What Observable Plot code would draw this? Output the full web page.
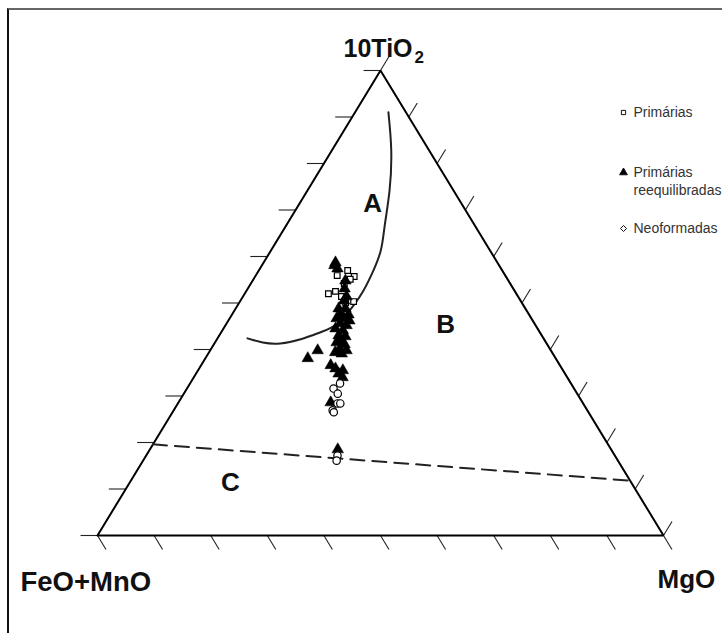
<!DOCTYPE html>
<html>
<head>
<meta charset="utf-8">
<script src="https://cdn.jsdelivr.net/npm/d3@7"></script>
<script src="https://cdn.jsdelivr.net/npm/@observablehq/plot@0.6"></script>
<style>
  body { margin: 0; background: #fff; }
  #chart { position: relative; width: 722px; height: 633px; overflow: hidden; background: #fff; }
  #border { position: absolute; left: 7px; top: 8px; width: 800px; height: 700px;
            border-left: 2px solid #111; border-top: 2px solid #666; pointer-events: none; }
  #chart svg { position: absolute; left: 0; top: 0; }
</style>
</head>
<body>
<div id="chart"><div id="border"></div></div>
<script>
// Compositions in % of 10TiO2 and MgO; FeO+MnO is the remainder to 100.

// Primárias
const primTiO2 = [55.9, 57.0, 55.7, 55.1, 54.2, 52.0, 52.5, 50.3, 50.1, 51.4];
const primMgO  = [14.4, 15.7, 17.5, 17.1, 16.5, 14.8, 15.8, 20.1, 18.8, 17.4];

// Primárias reequilibradas
const reeqTiO2 = [58.1, 57.4, 58.7, 54.8, 53.1, 51.4, 50.5, 48.8, 48.8, 47.7, 47.5, 46.7,
                  46.7, 46.2, 45.6, 45.2, 44.5, 44.1, 43.0, 42.8, 41.9, 41.5, 41.1, 40.2,
                  39.8, 39.1, 39.4, 39.8, 38.1, 36.6, 35.9, 35.5, 34.8, 34.0, 28.6, 18.5];
const reeqMgO  = [12.8, 13.7, 12.7, 16.4, 17.1, 18.3, 18.3, 18.2, 19.4, 19.1, 20.6, 18.9,
                  20.2, 21.4, 20.1, 21.4, 19.8, 21.3, 21.1, 22.4, 22.2, 21.5, 23.1, 22.7,
                  24.1, 23.6, 22.3, 19.0, 18.1, 22.9, 24.1, 25.6, 25.2, 26.3, 26.9, 33.2];

// Neoformadas
const neoTiO2 = [32.7, 31.6, 30.5, 28.4, 28.4, 26.9, 26.5, 17.2, 16.1];
const neoMgO  = [26.5, 25.9, 27.2, 28.2, 28.7, 28.1, 28.5, 33.8, 34.2];

// Field boundary between A and B (curved)
const abTiO2 = [91.0, 82.8, 74.2, 66.7, 61.3, 56.6, 52.7, 49.5, 45.6, 43.7, 42.2, 41.3, 41.5, 42.4];
const abMgO  = [5.9, 10.5, 14.5, 17.4, 19.4, 20.3, 20.65, 20.5, 19.6, 17.55, 14.8, 11.65, 8.45, 5.3];

// Field boundary above C (dashed)
const cTiO2 = [19.6, 11.8];
const cMgO  = [0, 88.2];

// Field labels
const fieldNames = ["A", "B", "C"];
const fieldTiO2  = [71.4, 45.4, 11.4];
const fieldMgO   = [12.9, 38.8, 17.8];

// Tick positions along each side (%)
const tickValues = [0, 10, 20, 30, 40, 50, 60, 70, 80, 90, 100];
const tickLen = 3;

// Legend entries
const legendNames   = ["Primárias", "Primárias\nreequilibradas", "Neoformadas"];
const legendSymbols = ["square", "triangle", "diamond2"];
const legendFills   = ["white", "black", "white"];
const legendSizes   = [2.4, 2.9, 2.7];

// Ternary -> cartesian (triangle of unit base and unit height)
const px = (t, m) => (m + t / 2) / 100;
const py = t => t / 100;
const toPoints = (tio2, mgo) => tio2.map((t, i) => ({x: px(t, mgo[i]), y: py(t)}));

const prim = toPoints(primTiO2, primMgO);
const reeq = toPoints(reeqTiO2, reeqMgO);
const neo  = toPoints(neoTiO2, neoMgO);
const ab   = toPoints(abTiO2, abMgO);
const cLine = toPoints(cTiO2, cMgO);
const outline = toPoints([0, 100, 0, 0], [0, 0, 100, 0]);
const fields = fieldNames.map((n, i) => ({name: n, x: px(fieldTiO2[i], fieldMgO[i]), y: py(fieldTiO2[i])}));

// Ticks: left side horizontal, base parallel to right side, right side parallel to left side
const ticks = [];
for (const v of tickValues) {
  ticks.push({x1: px(v, 0), y1: py(v), x2: px(v, -tickLen), y2: py(v)});
  ticks.push({x1: px(0, 100 - v), y1: py(0), x2: px(-tickLen, 100 - v + tickLen), y2: py(-tickLen)});
  ticks.push({x1: px(100 - v, v), y1: py(100 - v), x2: px(100 - v + tickLen, v), y2: py(100 - v + tickLen)});
}

const font = "'Liberation Sans', Arial, sans-serif";
const legendY = [112, 172, 228];

const legendMarks = legendNames.flatMap((n, i) => [
  Plot.dot([n], {frameAnchor: "top-left", dx: 623, dy: legendY[i], symbol: legendSymbols[i],
    r: legendSizes[i], fill: legendFills[i], stroke: "#111", strokeWidth: 1}),
  Plot.text([n], {frameAnchor: "top-left", dx: 633, dy: legendY[i] - 7.5, text: d => d,
    textAnchor: "start", lineAnchor: "top", fontSize: 14, fill: "#333", lineHeight: 1.25})
]);

const chart = Plot.plot({
  width: 722,
  height: 633,
  margin: 0,
  x: {domain: [0, 1], range: [97, 663], axis: null},
  y: {domain: [0, 1], range: [535, 70], axis: null},
  style: {background: "transparent", fontFamily: font},
  marks: [
    Plot.link(ticks, {x1: "x1", y1: "y1", x2: "x2", y2: "y2", stroke: "#222", strokeWidth: 1.1}),
    Plot.line(outline, {x: "x", y: "y", stroke: "#000", strokeWidth: 2, strokeLinejoin: "miter"}),
    Plot.line(ab, {x: "x", y: "y", curve: "natural", stroke: "#222", strokeWidth: 2}),
    Plot.line(cLine, {x: "x", y: "y", stroke: "#222", strokeWidth: 2, strokeDasharray: "14,8"}),
    Plot.dot(prim, {x: "x", y: "y", symbol: "square", r: 3.2, fill: "white", stroke: "black", strokeWidth: 1.2}),
    Plot.dot(reeq, {x: "x", y: "y", symbol: "triangle", r: 4.3, fill: "black", stroke: "black", strokeWidth: 0.5}),
    Plot.dot(neo, {x: "x", y: "y", symbol: "circle", r: 3.7, fill: "white", stroke: "black", strokeWidth: 1.2}),
    Plot.text(fields, {x: "x", y: "y", text: "name", fontSize: 26, fontWeight: "bold", fill: "#111", lineAnchor: "middle"}),
    // Apex and corner labels
    Plot.text(["10TiO"], {x: px(100, 0), y: py(100), text: d => d, fontSize: 25, fontWeight: "bold", fill: "#111",
      textAnchor: "start", lineAnchor: "bottom", dx: -37, dy: -14}),
    Plot.text(["2"], {x: px(100, 0), y: py(100), text: d => d, fontSize: 17, fontWeight: "bold", fill: "#111",
      textAnchor: "start", lineAnchor: "bottom", dx: 34, dy: -8}),
    Plot.text(["FeO+MnO"], {x: px(0, 0), y: py(0), text: d => d, fontSize: 27.5, fontWeight: "bold", fill: "#111",
      textAnchor: "start", lineAnchor: "bottom", dx: -77, dy: 55}),
    Plot.text(["MgO"], {x: px(0, 100), y: py(0), text: d => d, fontSize: 26, fontWeight: "bold", fill: "#111",
      textAnchor: "start", lineAnchor: "bottom", dx: -6, dy: 52}),
    ...legendMarks
  ]
});

document.getElementById("chart").appendChild(chart);
</script>
</body>
</html>
